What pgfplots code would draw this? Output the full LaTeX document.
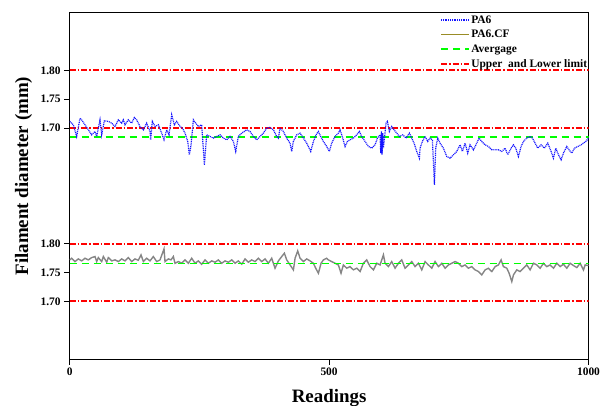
\documentclass[border=0pt]{standalone}
\usepackage{fontspec}
\setmainfont{Liberation Serif}
\usepackage{pgfplots}
\usepackage{pgfplotstable}
\pgfplotsset{compat=1.18}
\definecolor{pablue}{rgb}{0.08,0.08,1}
\definecolor{cfgray}{rgb}{0.52,0.52,0.52}
\definecolor{legolive}{rgb}{0.6,0.55,0.15}

\pgfplotstableread{
x y
0 1.7116
7 1.7058
13.4 1.6856
19.9 1.7173
23 1.7144
29.5 1.7058
36 1.6971
42.3 1.6884
48.8 1.6942
52 1.6856
55.2 1.7000
58.4 1.7144
61.6 1.6884
66.8 1.7127
74.5 1.7116
81 1.7087
87.3 1.7029
93.8 1.7144
100.2 1.7087
103.4 1.7144
106.6 1.7058
113 1.7144
119.5 1.7087
124.6 1.7185
129.1 1.7144
135.5 1.7029
142 1.6971
148.4 1.7087
154.8 1.6942
156 1.6798
159.3 1.7116
164.5 1.7029
171 1.7058
177.3 1.6913
181.8 1.6798
187 1.6971
191.5 1.6884
196.6 1.7231
201.7 1.7058
206.2 1.7116
212.7 1.7029
217.2 1.7000
222.3 1.6913
227.5 1.6769
230.7 1.6538
233.9 1.6711
238.4 1.7144
242.9 1.7087
248 1.7029
254.4 1.7058
259.6 1.6365
264 1.6884
270.5 1.6856
276.9 1.6827
283.4 1.6856
289.8 1.6884
296.2 1.6827
302.6 1.6798
309 1.6856
315.5 1.6769
320 1.6596
325.1 1.6856
331.6 1.6913
341.2 1.6971
347.6 1.6942
354 1.6856
360.4 1.6798
366.9 1.6856
373.3 1.6913
379.7 1.7000
386.1 1.7012
392.6 1.6971
399 1.6856
402.2 1.6827
405.4 1.7000
411.9 1.6942
418.3 1.6827
424.7 1.6740
427.9 1.6596
431.1 1.6769
437.6 1.6884
444 1.6913
450.4 1.6827
456.8 1.6740
460.1 1.6682
464.6 1.6596
469.7 1.6769
474.8 1.6884
479.3 1.6942
483.8 1.6856
489 1.6769
495.4 1.6682
500.5 1.6596
505 1.6740
511.5 1.6856
517.9 1.6913
521.1 1.6971
526.3 1.6827
530.8 1.6682
535.3 1.6769
540.4 1.6798
546.8 1.6827
553.2 1.6884
558.4 1.6942
562.9 1.6856
569.3 1.6769
575.7 1.6682
582.2 1.6653
588.6 1.6711
593.1 1.6827
598.2 1.6884
599.5 1.6567
600.8 1.6942
602.1 1.6538
603.4 1.6913
604.7 1.6653
609.8 1.7087
612.4 1.7116
616.2 1.6942
620.7 1.7029
625.2 1.6971
630.4 1.6913
635.5 1.6856
641.9 1.6884
648.4 1.6827
654.8 1.6913
659.3 1.6827
663.8 1.6740
668.9 1.6596
674.1 1.6480
675.3 1.6653
679.8 1.6769
685 1.6856
690.1 1.6769
694.6 1.6827
699.1 1.6798
703 1.6018
705.5 1.6653
709.4 1.6827
713.9 1.6740
720.3 1.6653
726.8 1.6509
733.2 1.6480
739.6 1.6538
746 1.6596
752.5 1.6711
757 1.6596
762.1 1.6740
767.2 1.6567
771.7 1.6711
778.2 1.6624
784.6 1.6740
789.1 1.6827
794.2 1.6769
800.7 1.6711
807.1 1.6682
813.5 1.6624
820 1.6624
826.4 1.6624
832.8 1.6596
839.2 1.6653
844.4 1.6538
850.8 1.6653
855.3 1.6711
859.8 1.6653
864.9 1.6509
870.1 1.6682
874.6 1.6769
881 1.6827
887.4 1.6856
891.9 1.6827
897.1 1.6740
902.2 1.6653
908.6 1.6711
915.1 1.6653
921.5 1.6740
927.9 1.6596
932.4 1.6480
936.9 1.6653
942.1 1.6538
947.2 1.6451
951.7 1.6567
958.1 1.6682
962.6 1.6624
967.8 1.6567
972.9 1.6653
979.3 1.6682
985.8 1.6711
990.3 1.6740
994.8 1.6769
1000 1.6827
}\pasix

\pgfplotstableread{
x y
0 1.7717
3.8 1.7746
10.2 1.7688
16.6 1.7734
23.1 1.7700
29.5 1.7746
35.9 1.7717
42.4 1.7757
48.8 1.7775
52 1.7688
55.2 1.7757
61.6 1.7688
64.9 1.7775
71.3 1.7677
74.5 1.7757
80.9 1.7700
87.3 1.7717
93.8 1.7688
100.2 1.7734
106.6 1.7700
113 1.7757
119.5 1.7688
125.9 1.7734
132.3 1.7711
137.5 1.7804
142 1.7688
148.4 1.7746
154.8 1.7700
161.2 1.7775
167.7 1.7688
174.1 1.7717
181.8 1.7908
183.7 1.7688
190.2 1.7734
195.3 1.7717
199.8 1.7775
203 1.7659
209.5 1.7688
215.9 1.7659
222.3 1.7717
228.7 1.7659
235.2 1.7746
241.6 1.7659
248 1.7700
254.4 1.7642
260.9 1.7717
267.3 1.7659
273.7 1.7700
280.2 1.7677
286.6 1.7717
293 1.7659
299.4 1.7700
305.9 1.7677
312.3 1.7717
318.7 1.7659
325.1 1.7700
331.6 1.7642
338 1.7734
344.4 1.7677
350.8 1.7717
357.3 1.7688
363.7 1.7746
370.1 1.7688
376.6 1.7734
383 1.7659
389.4 1.7746
395.8 1.7573
402.3 1.7700
408.7 1.7775
413.8 1.7833
418.3 1.7717
424.8 1.7630
431.2 1.7544
434.4 1.7746
439.5 1.7873
444 1.7746
450.4 1.7688
456.9 1.7734
463.3 1.7700
469.7 1.7659
474.2 1.7573
479.4 1.7486
484.5 1.7659
489 1.7717
495.4 1.7746
498.6 1.7717
505 1.7688
511.5 1.7659
517.9 1.7630
523 1.7486
527.5 1.7630
534 1.7573
540.4 1.7601
546.8 1.7544
553.3 1.7573
559.7 1.7515
566.1 1.7659
572.5 1.7717
579 1.7601
585.4 1.7544
591.8 1.7659
598.3 1.7630
604.7 1.7804
607.9 1.7659
614.3 1.7601
620.7 1.7688
627.2 1.7573
633.6 1.7659
640 1.7717
646.4 1.7573
652.9 1.7630
659.3 1.7688
665.7 1.7601
672.2 1.7659
678.6 1.7544
685 1.7688
691.4 1.7630
697.9 1.7573
704.3 1.7688
710.7 1.7601
717.2 1.7659
723.6 1.7573
730 1.7630
736.4 1.7659
742.9 1.7688
749.3 1.7659
755.7 1.7601
762.1 1.7630
768.6 1.7573
775 1.7601
781.4 1.7544
787.9 1.7515
794.3 1.7457
800.7 1.7544
807.1 1.7573
813.6 1.7515
820 1.7601
826.4 1.7630
831.5 1.7717
836 1.7601
842.5 1.7573
847 1.7486
852.1 1.7342
855.3 1.7457
861.8 1.7544
868.2 1.7515
874.6 1.7573
881 1.7630
887.5 1.7544
893.9 1.7659
900.3 1.7630
906.8 1.7573
913.2 1.7659
919.6 1.7601
926 1.7630
932.5 1.7573
938.9 1.7659
945.3 1.7601
951.7 1.7642
958.2 1.7573
964.6 1.7659
971 1.7619
977.5 1.7584
983.9 1.7659
990.3 1.7544
993.5 1.7630
1000 1.7619
}\pacf

\begin{document}
\begin{tikzpicture}
\begin{axis}[
  width=518.8bp, height=346.3bp,
  scale only axis,
  xmin=0, xmax=1000,
  ymin=1.60, ymax=2.20,
  axis line style={line width=1bp},
  tick style={line width=1bp, black},
  tick align=outside,
  major tick length=5.5bp,
  xtick pos=bottom, ytick pos=left,
  xtick={0,500,1000},
  xticklabels={0,500,1000},
  ytick={1.70,1.75,1.80,2.00,2.05,2.10},
  yticklabels={1.70,1.75,1.80,1.70,1.75,1.80},
  ticklabel style={font=\bfseries\fontsize{11.5}{13}\selectfont},
  xlabel={Readings},
  ylabel={Filament diameter (mm)},
  label style={font=\bfseries\fontsize{19}{22}\selectfont},
  xlabel style={at={(axis description cs:0.5,-0.125)}, anchor=base},
  ylabel style={at={(axis description cs:-0.089,0.528)}, anchor=center},
  legend style={draw=none, fill=none, at={(axis description cs:1.0,1.0)}, anchor=north east,
    inner sep=0pt, outer sep=0pt,
    font=\bfseries\fontsize{11.5}{13}\selectfont,
    nodes={inner sep=1.35bp, text height=9bp, text depth=3bp},
    row sep=0pt},
  legend cell align=left,
  legend image code/.code={\draw[#1] (0bp,0bp) -- (28bp,0bp);},
  limstyle/.style={draw=red, line width=1.9bp, dash pattern=on 6bp off 2bp on 1.5bp off 2bp},
  avgstyle/.style={draw=green, line width=1.9bp, dash pattern=on 7bp off 5bp},
]
% limits (upper panel shifted by 0.3)
\addplot[limstyle, forget plot] coordinates {(0,1.80) (1000,1.80)};
\addplot[limstyle, forget plot] coordinates {(0,1.70) (1000,1.70)};
\addplot[limstyle, forget plot] coordinates {(0,2.10) (1000,2.10)};
\addplot[limstyle, forget plot] coordinates {(0,2.00) (1000,2.00)};
% upper average
\addplot[avgstyle, forget plot] coordinates {(0,1.9845) (1000,1.9845)};
% data
\addplot[draw=pablue, line width=1.2bp, dash pattern=on 1bp off 0.8bp, forget plot] table[x=x, y expr=\thisrow{y}+0.3] {\pasix};
\addplot[draw=cfgray, line width=1.4bp, forget plot] table[x=x, y=y] {\pacf};
% lower average, drawn over the PA6.CF line
\addplot[avgstyle, forget plot] coordinates {(0,1.7654) (1000,1.7654)};
% legend
\addlegendimage{draw=pablue, line width=1.2bp, dash pattern=on 1bp off 0.8bp}
\addlegendentry{PA6}
\addlegendimage{draw=legolive, line width=1.4bp}
\addlegendentry{PA6.CF}
\addlegendimage{avgstyle}
\addlegendentry{Avergage}
\addlegendimage{limstyle}
\addlegendentry{Upper~ and Lower limit}
\end{axis}
\pgfresetboundingbox
\path (current axis.south west) ++(-69.7bp,-47bp) rectangle ++(606bp,406bp);
\end{tikzpicture}
\end{document}
